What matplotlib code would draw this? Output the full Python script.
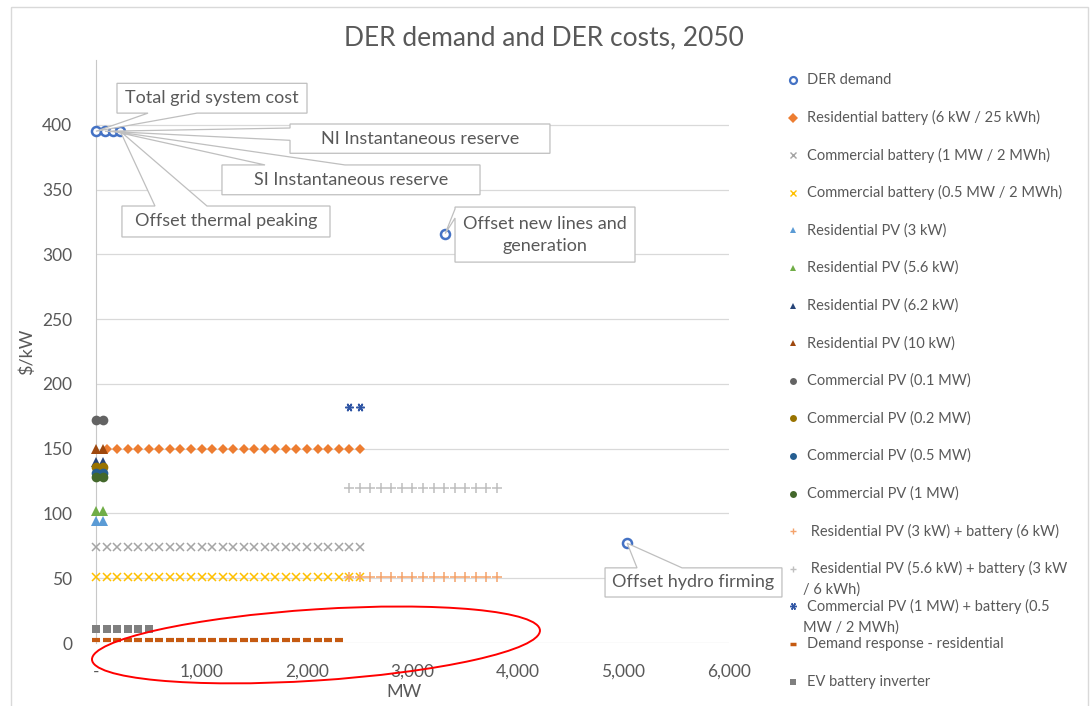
import numpy as np
import matplotlib
matplotlib.use('Agg')
import matplotlib.pyplot as plt
from matplotlib.patches import Polygon, Ellipse, Rectangle
from matplotlib.ticker import FuncFormatter, MultipleLocator

plt.rcParams['font.family'] = ['Lato', 'DejaVu Sans']

# ---- data (MW, $/kW) ----
der_x = [0, 85, 160, 230, 3310, 5035]
der_y = [395, 395, 395, 395, 316, 77]
der_labels = ['Total grid system cost', 'NI Instantaneous reserve',
              'SI Instantaneous reserve', 'Offset thermal peaking',
              'Offset new lines and\ngeneration', 'Offset hydro firming']

res_batt_x = np.arange(100, 2501, 100)
res_batt_y = [150] * len(res_batt_x)
com_batt1_x = np.arange(0, 2501, 100)
com_batt1_y = [74] * len(com_batt1_x)
com_batt05_x = np.arange(0, 2501, 100)
com_batt05_y = [51] * len(com_batt05_x)

small_x = [0, 65]
res_pv3_y = [94, 94]
res_pv56_y = [102, 102]
res_pv62_y = [140, 140]
res_pv10_y = [150, 150]
com_pv01_y = [172, 172]
com_pv02_y = [136, 136]
com_pv05_y = [131, 131]
com_pv1_y = [128, 128]

pv_batt_x = np.arange(2400, 3801, 100)
res_pv3_batt_y = [51] * len(pv_batt_x)
res_pv56_batt_y = [120] * len(pv_batt_x)
com_pv_batt_x = [2400, 2500]
com_pv_batt_y = [182, 182]
dr_x = np.arange(0, 2301, 100)
dr_y = [2.5] * len(dr_x)
ev_x = np.arange(0, 501, 100)
ev_y = [11] * len(ev_x)

# series: label, x, y, marker, color, size, filled
series = [
    ('DER demand', der_x, der_y, 'o', '#4472C4', 6.5, False),
    ('Residential battery (6 kW / 25 kWh)', res_batt_x, res_batt_y, 'D', '#ED7D31', 5, True),
    ('Commercial battery (1 MW / 2 MWh)', com_batt1_x, com_batt1_y, 'x', '#A5A5A5', 6, True),
    ('Commercial battery (0.5 MW / 2 MWh)', com_batt05_x, com_batt05_y, 'x', '#FFC000', 6, True),
    ('Residential PV (3 kW)', small_x, res_pv3_y, '^', '#5B9BD5', 7, True),
    ('Residential PV (5.6 kW)', small_x, res_pv56_y, '^', '#70AD47', 7, True),
    ('Residential PV (6.2 kW)', small_x, res_pv62_y, '^', '#264478', 7, True),
    ('Residential PV (10 kW)', small_x, res_pv10_y, '^', '#9E480E', 7, True),
    ('Commercial PV (0.1 MW)', small_x, com_pv01_y, 'o', '#636363', 7, True),
    ('Commercial PV (0.2 MW)', small_x, com_pv02_y, 'o', '#997300', 7, True),
    ('Commercial PV (0.5 MW)', small_x, com_pv05_y, 'o', '#255E91', 7, True),
    ('Commercial PV (1 MW)', small_x, com_pv1_y, 'o', '#43682B', 7, True),
    (' Residential PV (3 kW) + battery (6 kW)', pv_batt_x, res_pv3_batt_y, '+', '#F4A36B', 7, True),
    (' Residential PV (5.6 kW) + battery (3 kW\n/ 6 kWh)', pv_batt_x, res_pv56_batt_y, '+', '#BFBFBF', 7, True),
    ('Commercial PV (1 MW) + battery (0.5\nMW / 2 MWh)', com_pv_batt_x, com_pv_batt_y, (6, 2, 90), '#2F55A4', 6, True),
    ('Demand response - residential', dr_x, dr_y, '_', '#C55A11', 6, True),
    ('EV battery inverter', ev_x, ev_y, 's', '#7F7F7F', 6, True),
]

TXT = '#595959'
W, H = 1091, 706

fig = plt.figure(figsize=(W / 100, H / 100), dpi=100)
ax = fig.add_axes([96 / W, 1 - 643 / H, (729 - 96) / W, (643 - 60) / H])
ax.set_xlim(0, 6000)
ax.set_ylim(0, 450)
ax.set_yticks(np.arange(0, 401, 50))
ax.xaxis.set_major_locator(MultipleLocator(1000))
ax.xaxis.set_major_formatter(FuncFormatter(lambda v, p: '-' if abs(v) < 1e-9 else f'{v:,.0f}'))
ax.tick_params(length=0, labelsize=12.5, labelcolor=TXT)
ax.tick_params(axis='y', pad=17)
ax.tick_params(axis='x', pad=15)
ax.grid(axis='y', color='#D9D9D9', lw=0.9)
ax.set_axisbelow(True)
for s in ['top', 'right', 'bottom']:
    ax.spines[s].set_visible(False)
ax.spines['left'].set_color('#C8C8C8')

for label, x, y, m, c, ms, filled in series:
    if m == '_':
        ax.plot(x, y, ls='none', marker=m, ms=ms, mew=3, color=c, clip_on=False, zorder=3)
    elif m in ('x', '+') or isinstance(m, tuple):
        ax.plot(x, y, ls='none', marker=m, ms=ms, mew=1.1, color=c, clip_on=False, zorder=3)
    elif filled:
        ax.plot(x, y, ls='none', marker=m, ms=ms, mew=0, color=c, clip_on=False, zorder=3)
    else:
        ax.plot(x, y, ls='none', marker=m, ms=ms, mew=1.8, mfc='white', mec=c,
                clip_on=False, zorder=3)


def callout(i, box, side, base):
    px, py = der_x[i], der_y[i]
    x0, y0, x1, y1 = box
    b0, b1 = base
    if side == 'top':
        verts = [(x0, y1), (b0, y1), (px, py), (b1, y1), (x1, y1), (x1, y0), (x0, y0)]
    elif side == 'bottom':
        verts = [(x0, y1), (x1, y1), (x1, y0), (b1, y0), (px, py), (b0, y0), (x0, y0)]
    else:
        verts = [(x0, y1), (x1, y1), (x1, y0), (x0, y0), (x0, b0), (px, py), (x0, b1)]
    ax.add_patch(Polygon(verts, closed=True, fc='white', ec='#BFBFBF', lw=0.9,
                         clip_on=False, zorder=4))
    ax.text((x0 + x1) / 2, (y0 + y1) / 2, der_labels[i], ha='center', va='center',
            fontsize=13, color=TXT, zorder=5, linespacing=1.45)


callout(0, (199, 409, 2000, 432), 'bottom', (493, 957))
callout(1, (1839, 378, 4303, 400.6), 'left', (388, 397.5))
callout(2, (1194, 346, 3640, 369), 'top', (1602, 2360))
callout(3, (246, 313.4, 2218, 337.3), 'top', (559, 1052))
callout(4, (3403, 294, 5109, 336.5), 'left', (328, 335))
callout(5, (4825, 35.5, 6502, 58), 'top', (5128, 5555))

# hand-drawn highlight ellipse
ax.add_patch(Ellipse((2085, -1.5), 4246, 55, angle=0.3, fill=False, ec='red', lw=1.4,
                     clip_on=False, zorder=6))

# overlay axes in pixel units for title, labels, legend and frame
lax = fig.add_axes([0, 0, 1, 1])
lax.set_xlim(0, W)
lax.set_ylim(H, 0)
lax.axis('off')
lax.add_patch(Rectangle((11, 7), 1077, 720, fill=False, ec='#D9D9D9', lw=1, clip_on=False))
lax.text(544, 38, 'DER demand and DER costs, 2050', ha='center', va='center',
         fontsize=19, color=TXT)
lax.text(27, 352, '$/kW', ha='center', va='center', rotation=90, fontsize=13, color=TXT)
lax.text(404, 692, 'MW', ha='center', va='center', fontsize=13, color=TXT)

for k, (label, x, y, m, c, ms, filled) in enumerate(series):
    ry = 80 + 37.6 * k
    lm = 5 if m != '_' else 4.5
    if m == '_':
        lax.plot(793, ry, marker=m, ms=lm, mew=2.5, color=c)
    elif m in ('x', '+') or isinstance(m, tuple):
        lax.plot(793, ry, marker=m, ms=lm, mew=1, color=c)
    elif filled:
        lax.plot(793, ry, marker=m, ms=lm, mew=0, color=c)
    else:
        lax.plot(793, ry, marker=m, ms=lm, mew=1.6, mfc='white', mec=c)
    for j, line in enumerate(label.split('\n')):
        lax.text(807 if j == 0 else 803, ry + 21 * j, line, ha='left', va='center',
                 fontsize=10.5, color=TXT)

fig.savefig('out.png', dpi=100)
